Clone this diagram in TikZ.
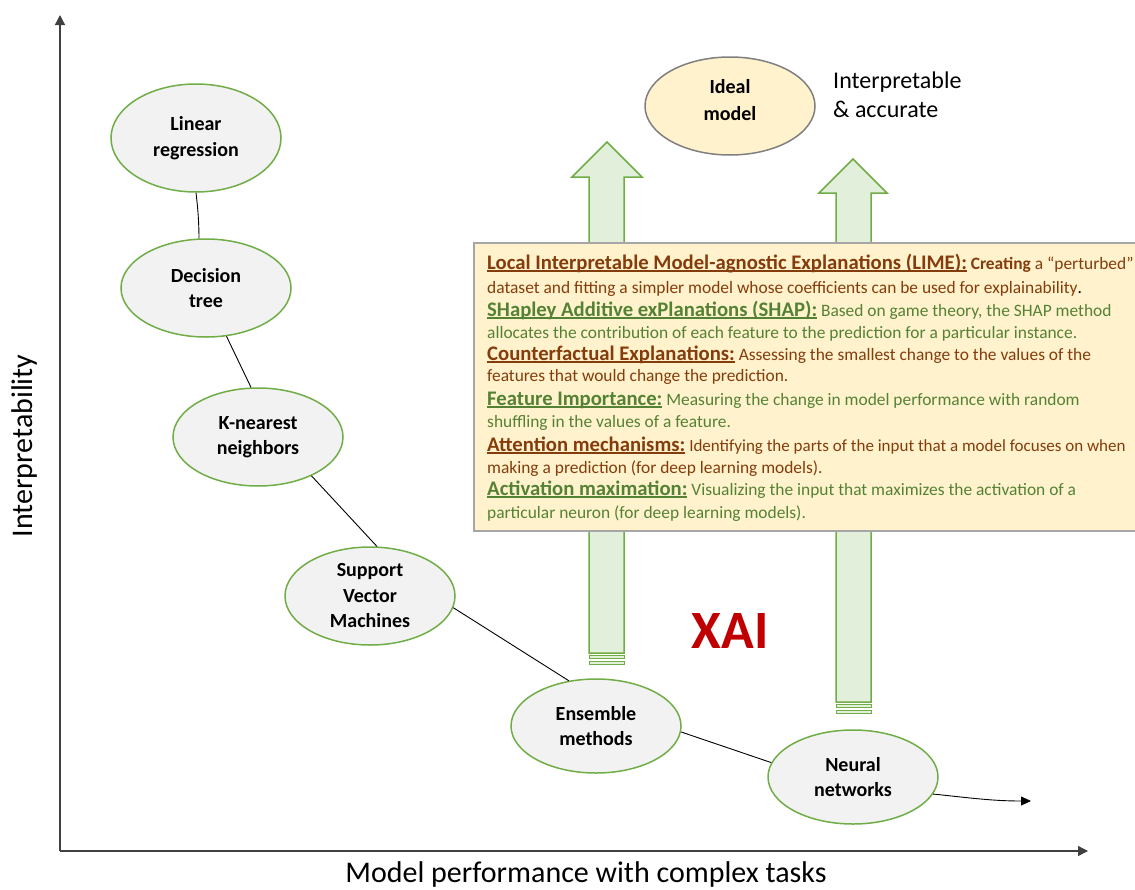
\documentclass[tikz,border=0pt]{standalone}
\usepackage{fontspec}
\setmainfont{Carlito}
\usetikzlibrary{arrows.meta,shapes.geometric}
\definecolor{gfill}{HTML}{F2F2F2}
\definecolor{gline}{HTML}{70AD47}
\definecolor{afill}{HTML}{E2EFDA}
\definecolor{yfill}{HTML}{FFF2CC}
\definecolor{brn}{HTML}{843C0C}
\definecolor{grn}{HTML}{548235}
\definecolor{xred}{HTML}{C00000}
\definecolor{axisc}{HTML}{404040}
\definecolor{boxline}{HTML}{A6A6A6}
\definecolor{idealline}{HTML}{7F7F7F}
\newcommand\myul[1]{\setbox0\hbox{#1}\rlap{\rule[-2.6pt]{\wd0}{1.2pt}}\box0}
\newcommand\hd{\fontsize{20.7}{24}\selectfont\bfseries}
\begin{document}
\begin{tikzpicture}[x=1pt,y=-1pt,
  model/.style={ellipse, draw=gline, line width=1.5pt, fill=gfill, minimum width=170pt, minimum height=98pt, inner sep=0pt, align=center, font=\fontsize{20}{25.5}\selectfont\bfseries},
  link/.style={draw=black, line width=0.9pt},
  axisline/.style={draw=axisc, line width=1.3pt, -{Triangle[length=10pt,width=10pt]}},
  blockarrow/.style={draw=gline, fill=afill, line width=1.5pt, line join=miter},
  stripe/.style={draw=gline, fill=afill, line width=1pt},
  txt/.style={anchor=base west, inner sep=0pt, font=\fontsize{17.4}{20}\selectfont},
]
\useasboundingbox (0,0) rectangle (1135,889);

% axes
\coordinate (origin) at (60,851);
\coordinate (ytip) at (60,15);
\coordinate (xtip) at (1088,851);
\draw[axisline] (origin) -- (ytip);
\draw[axisline] (origin) -- (xtip);
\node[anchor=base, inner sep=0pt, font=\fontsize{30}{36}\selectfont] (xlab) at (586,882) {Model performance with complex tasks};
\node[anchor=base, rotate=90, inner sep=0pt, font=\fontsize{30}{36}\selectfont] (ylab) at (32,446) {Interpretability};

% block arrows
\draw[blockarrow] (589,653) -- (589,177) -- (572,177) -- (607,142) -- (642,177) -- (624,177) -- (624,653) -- cycle;
\draw[stripe] (589,655.5) rectangle (624,658.5);
\draw[stripe] (589,661) rectangle (624,664);
\draw[blockarrow] (836,702) -- (836,193) -- (819,193) -- (853,159) -- (887,193) -- (871,193) -- (871,702) -- cycle;
\draw[stripe] (836,704.5) rectangle (871,707.5);
\draw[stripe] (836,710) rectangle (871,713);

% text box
\draw[draw=boxline, fill=yfill, line width=1.3pt] (474,243) rectangle (1140,531);
\node[txt] (l1) at (487,269) {{\hd\color{brn}\myul{Local Interpretable Model-agnostic Explanations (LIME):}} \color{brn}\textbf{Creating} a “perturbed”};
\node[txt] (l2) at (487,293) {\color{brn}dataset and fitting a simpler model whose coefficients can be used for explainability\color{black}.};
\node[txt] (l3) at (487,316) {{\hd\color{grn}\myul{SHapley Additive exPlanations (SHAP):}} \color{grn}Based on game theory, the SHAP method};
\node[txt] (l4) at (487,338) {\color{grn}allocates the contribution of each feature to the prediction for a particular instance.};
\node[txt] (l5) at (487,360) {{\hd\color{brn}\myul{Counterfactual Explanations:}} \color{brn}Assessing the smallest change to the values of the};
\node[txt] (l6) at (487,381) {\color{brn}features that would change the prediction.};
\node[txt] (l7) at (487,405) {{\hd\color{grn}\myul{Feature Importance:}} \color{grn}Measuring the change in model performance with random};
\node[txt] (l8) at (487,427) {\color{grn}shuffling in the values of a feature.};
\node[txt] (l9) at (487,451) {{\hd\color{brn}\myul{Attention mechanisms:}} \color{brn}\fontsize{17}{20}\selectfont Identifying the parts of the input that a model focuses on when};
\node[txt] (l10) at (487,473) {\color{brn}making a prediction (for deep learning models).};
\node[txt] (l11) at (487,495) {{\hd\color{grn}\myul{Activation maximation:}} \color{grn}Visualizing the input that maximizes the activation of a};
\node[txt] (l12) at (487,518) {\color{grn}particular neuron (for deep learning models).};

% models
\node[model, minimum height=108pt] (lr) at (196,138) {Linear\\regression};
\node[model] (dt) at (206,288) {Decision\\tree};
\node[model] (knn) at (258,437) {K-nearest\\neighbors};
\node[model, minimum height=98pt] (svm) at (370,596) {Support\\Vector\\Machines};
\node[model, minimum height=94pt] (ens) at (596,726) {Ensemble\\methods};
\node[model, minimum height=94pt] (nn) at (853,777) {Neural\\networks};
\node[model, draw=idealline, fill=yfill, minimum height=98pt, font=\fontsize{20}{27}\selectfont\bfseries] (ideal) at (730,106) {Ideal\\model\\[-14pt]};

\node[anchor=base west, inner sep=0pt, font=\fontsize{24}{29}\selectfont] (ia1) at (833,88) {Interpretable};
\node[anchor=base west, inner sep=0pt, font=\fontsize{24}{29}\selectfont] (ia2) at (833,117) {\& accurate};

\node[anchor=base, inner sep=0pt, text=xred, font=\fontsize{54}{60}\selectfont\bfseries] (xai) at (730,648) {XAI};

% connectors
\coordinate (curveend) at (1031,801);
\draw[link] (lr.south) to[bend left=3] (dt.98);
\draw[link] (dt.-67) -- (knn.98);
\draw[link] (knn.-36) -- (svm.82);
\draw[link] (svm.-8) -- (ens.121);
\draw[link] (ens.-4) -- (nn.170);
\draw[link, -{Triangle[length=10pt,width=9pt]}] (nn.-12) to[out=-6,in=180] (curveend);
\end{tikzpicture}
\end{document}
